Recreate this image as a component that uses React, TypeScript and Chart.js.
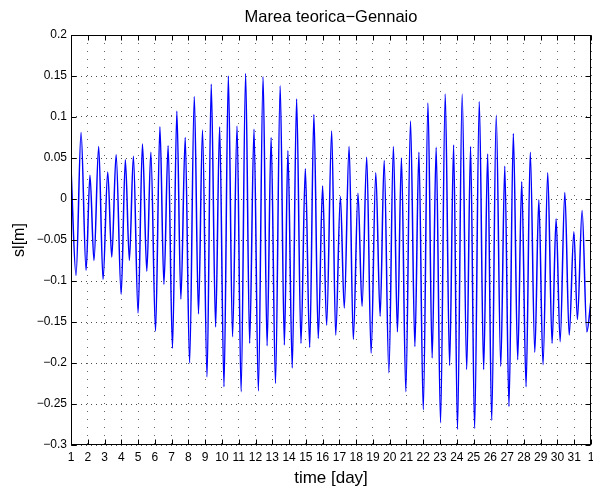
import React, { useEffect, useRef } from "react";
import { Chart, registerables } from "chart.js";

Chart.register(...registerables);

// time of each turning point of the tide [day of January]
const times: number[] = [
  1.00, 1.30, 1.60, 1.90, 2.13, 2.37, 2.65, 2.91, 3.19, 3.43,
  3.69, 3.99, 4.24, 4.48, 4.72, 5.00, 5.26, 5.52, 5.76, 6.04,
  6.30, 6.54, 6.79, 7.05, 7.31, 7.55, 7.81, 8.07, 8.35, 8.60,
  8.84, 9.11, 9.36, 9.62, 9.86, 10.12, 10.38, 10.63, 10.90, 11.14,
  11.41, 11.65, 11.91, 12.17, 12.45, 12.69, 12.93, 13.19, 13.47, 13.72,
  13.93, 14.19, 14.45, 14.71, 14.97, 15.23, 15.48, 15.74, 16.00, 16.24,
  16.54, 16.78, 17.06, 17.29, 17.58, 17.83, 18.11, 18.35, 18.63, 18.89,
  19.17, 19.43, 19.67, 19.95, 20.22, 20.46, 20.70, 20.96, 21.24, 21.50,
  21.74, 22.00, 22.28, 22.53, 22.77, 23.03, 23.31, 23.57, 23.81, 24.04,
  24.32, 24.59, 24.82, 25.06, 25.34, 25.60, 25.84, 26.08, 26.35, 26.62,
  26.86, 27.11, 27.37, 27.63, 27.87, 28.13, 28.38, 28.65, 28.89, 29.14,
  29.42, 29.68, 29.92, 30.16, 30.44, 30.70, 30.98, 31.19, 31.47, 31.75,
  32.00,
];

// sea level at those times [m]
const levels: number[] = [
  0.038, -0.093, 0.081, -0.087, 0.029, -0.075, 0.064, -0.098, 0.033, -0.071,
  0.054, -0.116, 0.048, -0.075, 0.052, -0.139, 0.067, -0.088, 0.057, -0.161,
  0.088, -0.104, 0.065, -0.182, 0.107, -0.122, 0.075, -0.200, 0.125, -0.140,
  0.084, -0.217, 0.140, -0.156, 0.088, -0.229, 0.150, -0.168, 0.089, -0.235,
  0.153, -0.176, 0.085, -0.234, 0.149, -0.179, 0.075, -0.225, 0.138, -0.178,
  0.059, -0.206, 0.122, -0.176, 0.037, -0.181, 0.103, -0.170, 0.016, -0.154,
  0.083, -0.166, 0.003, -0.133, 0.064, -0.171, 0.007, -0.131, 0.051, -0.188,
  0.032, -0.143, 0.047, -0.212, 0.064, -0.162, 0.050, -0.235, 0.095, -0.180,
  0.057, -0.257, 0.117, -0.194, 0.063, -0.273, 0.128, -0.203, 0.066, -0.281,
  0.128, -0.208, 0.064, -0.280, 0.119, -0.208, 0.055, -0.270, 0.102, -0.204,
  0.040, -0.253, 0.080, -0.196, 0.021, -0.229, 0.057, -0.187, -0.001, -0.202,
  0.032, -0.176, -0.024, -0.174, 0.008, -0.166, -0.040, -0.147, -0.014, -0.162,
  -0.123,
];

// x tick labels: days 1..31 of January, then 1 (February)
const dayLabels: string[] = [
  "1", "2", "3", "4", "5", "6", "7", "8", "9", "10", "11", "12", "13", "14", "15", "16",
  "17", "18", "19", "20", "21", "22", "23", "24", "25", "26", "27", "28", "29", "30", "31", "1",
];

const FONT = "'Liberation Sans', Arial, Helvetica, sans-serif";

const framePlugin = {
  id: "frame",
  afterDraw(chart: any) {
    const { ctx, chartArea: a, scales } = chart;
    const L = Math.round(a.left) + 0.5;
    const R = Math.round(a.right) - 0.5;
    const T = Math.round(a.top) + 0.5;
    const B = Math.round(a.bottom) - 0.5;
    ctx.save();
    ctx.strokeStyle = "#000";
    ctx.lineWidth = 1;
    ctx.setLineDash([]);
    ctx.strokeRect(L, T, R - L, B - T);
    const len = 5;
    ctx.beginPath();
    scales.x.ticks.forEach((t: any) => {
      const px = Math.round(scales.x.getPixelForValue(t.value)) + 0.5;
      ctx.moveTo(px, B);
      ctx.lineTo(px, B - len);
      ctx.moveTo(px, T);
      ctx.lineTo(px, T + len);
    });
    scales.y.ticks.forEach((t: any) => {
      const py = Math.round(scales.y.getPixelForValue(t.value)) + 0.5;
      ctx.moveTo(L, py);
      ctx.lineTo(L + len, py);
      ctx.moveTo(R, py);
      ctx.lineTo(R - len, py);
    });
    ctx.stroke();
    ctx.restore();
  },
};

export default function App() {
  const ref = useRef<HTMLCanvasElement | null>(null);

  useEffect(() => {
    if (!ref.current) return;
    const points = times.map((t, i) => ({ x: t, y: levels[i] }));
    const chart = new Chart(ref.current, {
      type: "line",
      data: {
        datasets: [
          {
            data: points,
            borderColor: "#0000ff",
            borderWidth: 1.5,
            pointRadius: 0,
            fill: false,
            cubicInterpolationMode: "monotone",
          },
        ],
      },
      options: {
        animation: false,
        responsive: false,
        layout: { padding: { left: 0, right: 2, top: 0, bottom: 0 } },
        plugins: {
          legend: { display: false },
          tooltip: { enabled: false },
          title: {
            display: true,
            fullSize: false,
            text: "Marea teorica\u2212Gennaio",
            color: "#000",
            font: { family: FONT, size: 16.5, weight: "normal", lineHeight: 1.2 },
            padding: { top: 8, bottom: 7.2 },
          },
        },
        scales: {
          x: {
            type: "linear",
            min: 1,
            max: 32,
            afterFit: (s: any) => {
              s.height = 42;
              s.paddingLeft = 0;
              s.paddingRight = 0;
            },
            afterBuildTicks: (s: any) => {
              s.ticks = dayLabels.map((_, i) => ({ value: i + 1 }));
            },
            ticks: {
              autoSkip: false,
              maxRotation: 0,
              padding: 5,
              color: "#000",
              font: { family: FONT, size: 12 },
              callback: (v: any) => dayLabels[Math.round(v) - 1] ?? "",
            },
            grid: {
              color: "rgba(0,0,0,0.6)",
              drawTicks: false,
              lineWidth: 1,
            },
            border: { display: false, dash: [1, 7] },
            title: {
              display: true,
              text: "time [day]",
              color: "#000",
              font: { family: FONT, size: 17, lineHeight: 1 },
              padding: { top: 0, bottom: 0 },
            },
          },
          y: {
            type: "linear",
            min: -0.3,
            max: 0.2,
            afterFit: (s: any) => {
              s.width = 71;
              s.paddingTop = 0;
              s.paddingBottom = 0;
            },
            ticks: {
              stepSize: 0.05,
              padding: 4,
              color: "#000",
              font: { family: FONT, size: 12 },
              callback: (v: any) => {
                const r = Math.round(Number(v) * 100) / 100;
                if (r === 0) return "0";
                return String(r).replace("-", "\u2212");
              },
            },
            grid: {
              color: "rgba(0,0,0,0.7)",
              drawTicks: false,
              lineWidth: 1,
            },
            border: { display: false, dash: [1, 4] },
            title: {
              display: true,
              text: "sl[m]",
              color: "#000",
              font: { family: FONT, size: 16, lineHeight: 1.2 },
              padding: { top: 9.5, bottom: 0 },
            },
          },
        },
      },
      plugins: [framePlugin],
    });
    return () => chart.destroy();
  }, []);

  return (
    <div
      style={{
        position: "fixed",
        left: 0,
        top: 0,
        width: 593,
        height: 487,
        background: "#fff",
      }}
    >
      <canvas ref={ref} width={593} height={487} style={{ display: "block" }} />
    </div>
  );
}
